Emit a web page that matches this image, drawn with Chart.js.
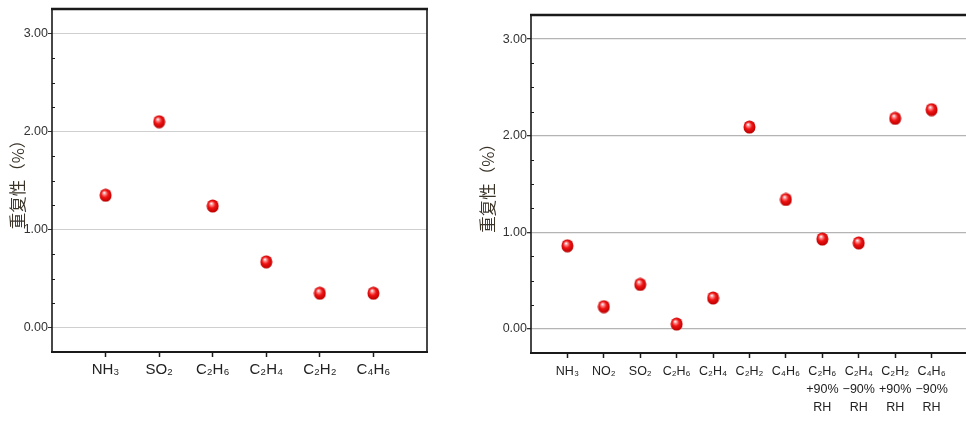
<!DOCTYPE html>
<html>
<head>
<meta charset="utf-8">
<script src="https://cdn.jsdelivr.net/npm/chart.js@4.4.1/dist/chart.umd.min.js"></script>
<style>
  html, body { margin: 0; padding: 0; background: #fff; width: 966px; height: 421px; overflow: hidden; position: relative; }
  #c1 { position: absolute; left: 0; top: 0; }
  #c2 { position: absolute; left: 470px; top: 0; }
</style>
</head>
<body>
<canvas id="c1" width="434" height="421"></canvas>
<canvas id="c2" width="505" height="421"></canvas>
<script>
// ---- data ----
const leftCategories = ['NH₃', 'SO₂', 'C₂H₆', 'C₂H₄', 'C₂H₂', 'C₄H₆'];
const leftValues = [1.35, 2.10, 1.24, 0.67, 0.35, 0.35];

const rightCategories = [
  ['NH₃'], ['NO₂'], ['SO₂'], ['C₂H₆'], ['C₂H₄'], ['C₂H₂'], ['C₄H₆'],
  ['C₂H₆', '+90%', 'RH'], ['C₂H₄', '−90%', 'RH'], ['C₂H₂', '+90%', 'RH'], ['C₄H₆', '−90%', 'RH']
];
const rightValues = [0.86, 0.23, 0.46, 0.05, 0.32, 2.09, 1.34, 0.93, 0.89, 2.18, 2.27];

const yTickLabels = ['0.00', '1.00', '2.00', '3.00'];
const yTitle = '重复性（%）';

// ---- sphere marker ----
function makeSphere() {
  const c = document.createElement('canvas');
  c.width = 13; c.height = 14;
  const g = c.getContext('2d');
  const grad = g.createRadialGradient(5.0, 4.4, 0.3, 6.5, 7, 7.5);
  grad.addColorStop(0, '#ffffff');
  grad.addColorStop(0.17, '#ff9090');
  grad.addColorStop(0.45, '#f01414');
  grad.addColorStop(0.85, '#c00000');
  grad.addColorStop(1, '#8a0000');
  g.fillStyle = grad;
  g.beginPath();
  g.ellipse(6.5, 7, 6.0, 6.6, 0, 0, Math.PI * 2);
  g.fill();
  return c;
}
const sphere = makeSphere();

const isInt = v => Math.abs(v - Math.round(v)) < 1e-6;

const framePlugin = {
  id: 'frame',
  afterDraw(chart) {
    const a = chart.chartArea, ctx = chart.ctx;
    ctx.save();
    ctx.strokeStyle = '#1a1a1a';
    const ys = chart.scales.y;
    ctx.lineWidth = 1;
    ys.ticks.forEach(t => {
      if (!isInt(t.value) && t.value > ys.min && t.value < ys.max) {
        const p = Math.round(ys.getPixelForValue(t.value)) + 0.5;
        ctx.beginPath(); ctx.moveTo(a.left, p); ctx.lineTo(a.left + 3, p); ctx.stroke();
      }
    });
    ctx.lineWidth = 1.6;
    ctx.beginPath(); ctx.moveTo(a.left, a.top); ctx.lineTo(a.left, a.bottom); ctx.stroke();
    ctx.beginPath(); ctx.moveTo(a.right, a.top); ctx.lineTo(a.right, a.bottom); ctx.stroke();
    ctx.lineWidth = 2.6;
    ctx.beginPath(); ctx.moveTo(a.left - 1, a.top); ctx.lineTo(a.right + 1, a.top); ctx.stroke();
    ctx.lineWidth = 2;
    ctx.beginPath(); ctx.moveTo(a.left - 1, a.bottom); ctx.lineTo(a.right + 1, a.bottom); ctx.stroke();
    ctx.restore();
  }
};

function makeChart(id, cats, values, cfg) {
  const n = cats.length;
  const data = values.map((v, i) => ({ x: i + 1, y: v }));
  return new Chart(document.getElementById(id), {
    type: 'scatter',
    data: {
      datasets: [{
        data: data,
        pointStyle: sphere,
        pointRadius: 6,
        showLine: false
      }]
    },
    plugins: [framePlugin],
    options: {
      responsive: false,
      animation: false,
      layout: { padding: { top: cfg.top, right: cfg.right, bottom: 0, left: 0 } },
      plugins: { legend: { display: false }, tooltip: { enabled: false } },
      scales: {
        x: {
          type: 'linear',
          min: 0,
          max: n + 1,
          afterFit: s => { s.height = cfg.xHeight; },
          afterBuildTicks: s => { s.ticks = []; for (let i = 0; i <= n + 1; i++) s.ticks.push({ value: i }); },
          border: { display: false },
          grid: {
            drawOnChartArea: false,
            drawTicks: true,
            tickLength: 5,
            tickWidth: 1.5,
            tickColor: c => (c.tick && c.tick.value >= 1 && c.tick.value <= n) ? '#1a1a1a' : 'rgba(0,0,0,0)'
          },
          ticks: {
            autoSkip: false,
            maxRotation: 0,
            padding: cfg.xPad,
            color: '#222',
            font: { family: 'Liberation Sans, Arial, sans-serif', size: cfg.xFont, lineHeight: cfg.xLineHeight },
            callback: v => (v >= 1 && v <= n && isInt(v)) ? cats[v - 1] : ''
          }
        },
        y: {
          min: -0.25,
          max: 3.25,
          afterFit: s => { s.width = cfg.yWidth; },
          afterBuildTicks: s => { s.ticks = []; for (let v = -0.25; v <= 3.2501; v += 0.25) s.ticks.push({ value: Math.round(v * 100) / 100 }); },
          border: { display: false },
          grid: {
            drawTicks: true,
            tickLength: 4,
            lineWidth: cfg.gridWidth,
            color: c => (c.tick && isInt(c.tick.value) && c.tick.value >= 0 && c.tick.value <= 3) ? cfg.gridColor : 'rgba(0,0,0,0)',
            tickColor: c => (c.tick && isInt(c.tick.value) && c.tick.value >= 0 && c.tick.value <= 3) ? '#333' : 'rgba(0,0,0,0)'
          },
          ticks: {
            autoSkip: false,
            padding: 0,
            color: '#333',
            font: { family: 'Liberation Sans, Arial, sans-serif', size: 12.5 },
            callback: v => (isInt(v) && v >= 0 && v <= 3) ? yTickLabels[Math.round(v)] : ''
          },
          title: {
            display: true,
            text: yTitle,
            color: '#3a3328',
            padding: { top: 8, bottom: 0 },
            font: { family: 'Noto Sans CJK SC, sans-serif', size: 16.5 }
          }
        }
      }
    }
  });
}

makeChart('c1', leftCategories, leftValues, {
  top: 9, right: 3, xHeight: 69, yWidth: 52, xFont: 15, xLineHeight: 1.2, xPad: 4,
  gridColor: '#cfcfcf', gridWidth: 1
});
makeChart('c2', rightCategories, rightValues, {
  top: 15, right: 4, xHeight: 68, yWidth: 61, xFont: 12.5, xLineHeight: 1.45, xPad: 4,
  gridColor: '#b4b4b4', gridWidth: 1.3
});
</script>
</body>
</html>
